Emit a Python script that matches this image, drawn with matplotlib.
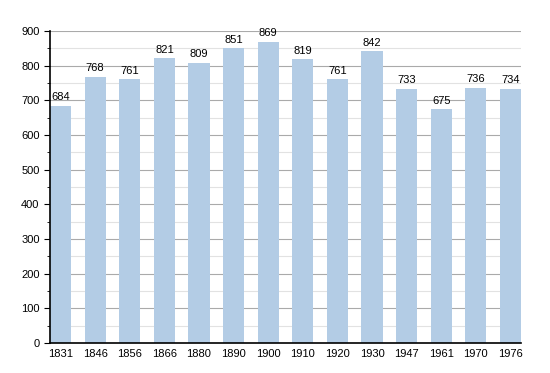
import matplotlib.pyplot as plt
from matplotlib.ticker import MultipleLocator

plt.rcParams['font.family'] = ['Liberation Sans', 'DejaVu Sans']

years = ['1831', '1846', '1856', '1866', '1880', '1890', '1900',
         '1910', '1920', '1930', '1947', '1961', '1970', '1976']
population = [684, 768, 761, 821, 809, 851, 869, 819, 761, 842, 733, 675, 736, 734]

BAR_COLOR = '#b3cce5'
BAR_W = 0.61

fig = plt.figure(figsize=(5.5, 3.73), dpi=100)
ax = fig.add_axes([50 / 550, 30 / 373, 471 / 550, 312 / 373])

x = list(range(len(years)))
ax.bar(x, population, width=BAR_W, color=BAR_COLOR, zorder=2)

for xi, v in zip(x, population):
    ax.text(xi, v + 10, str(v), ha='center', va='bottom', fontsize=8, zorder=3)

ax.set_xlim(-BAR_W / 2, len(years) - 1 + BAR_W / 2)
ax.set_ylim(0, 900)
ax.set_xticks(x)
ax.set_xticklabels(years)
ax.yaxis.set_major_locator(MultipleLocator(100))
ax.yaxis.set_minor_locator(MultipleLocator(50))

ax.grid(axis='y', which='major', color='#aaaaaa', linewidth=0.8, zorder=0)
ax.grid(axis='y', which='minor', color='#e2e2e2', linewidth=0.8, zorder=0)
ax.set_axisbelow(True)

for s in ['top', 'right']:
    ax.spines[s].set_visible(False)
ax.spines['left'].set_linewidth(1.2)
ax.spines['bottom'].set_linewidth(1.2)

ax.tick_params(axis='x', length=0, labelsize=8, pad=4)
ax.tick_params(axis='y', which='major', length=4, labelsize=8)
ax.tick_params(axis='y', which='minor', length=2)

fig.savefig('out.png', dpi=100)
